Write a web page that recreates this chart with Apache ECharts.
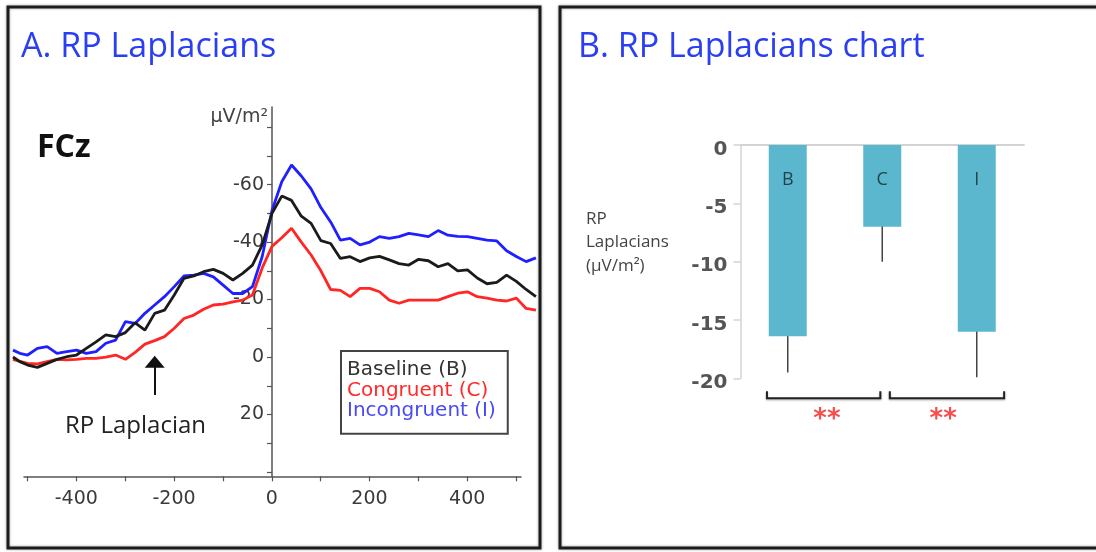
<!DOCTYPE html>
<html>
<head>
<meta charset="utf-8">
<script src="https://cdn.jsdelivr.net/npm/echarts@6/dist/echarts.min.js"></script>
<style>
  html, body { margin: 0; padding: 0; background: #fff; }
  #main { width: 1096px; height: 552px; }
</style>
</head>
<body>
<div id="main"></div>
<script>
// Panel A: RP Laplacian waveforms at FCz (ms vs µV/m²)
const times = [
    -530, -516, -500, -480, -460, -440, -420, -400, -380, -360, -340, -320, -300, -280,
    -260, -240, -220, -200, -180, -160, -140, -120, -100, -80, -60, -40, -20, 0,
    20, 40, 60, 80, 100, 120, 140, 160, 180, 200, 220, 240, 260, 280,
    300, 320, 340, 360, 380, 400, 420, 440, 460, 480, 500, 520, 540,
];
const baseline = [
    0, 1.6, 2.8, 3.6, 2.2, 0.8, -0.1, -0.7, -3, -5.3, -7.7, -7.1, -8.5, -11.9,
    -9.4, -15.2, -16.3, -21.6, -27.4, -28.2, -29.7, -30.5, -29.1, -26.8, -29.1, -32, -39, -50,
    -56, -54.5, -49, -46.5, -40.5, -39.5, -34.3, -34.9, -33.2, -34.5, -35, -33.8, -32.5, -32,
    -34, -33.5, -31.4, -32.5, -30, -30.3, -27.5, -25.5, -26, -28.5, -26.3, -23.5, -21,
];
const congruent = [
    0.8, 1.5, 2.2, 2.4, 1.6, 0.8, 1.0, 0.8, 0.5, 0.5, 0, -0.7, 0.8, -1.6,
    -4.5, -5.7, -7.1, -10, -13.4, -14.6, -16.6, -18.1, -18.4, -19.2, -19.8, -21.6, -31, -38.5,
    -41.5, -44.8, -40, -35.5, -30, -23.5, -23.2, -21, -23.9, -23.9, -22.7, -19.8, -18.7, -19.8,
    -19.8, -19.8, -19.8, -21, -22.2, -22.7, -21, -20.5, -19.8, -19.5, -20.5, -16.9, -16.3,
];
const incongruent = [
    -2.4, -1.3, -0.7, -3, -3.6, -1.3, -1.9, -2.4, -1.3, -1.9, -4.8, -5.9, -12.3, -11.7,
    -15.2, -18.1, -21, -24.5, -28.2, -28.5, -29.1, -27.9, -25, -22.1, -22.1, -24.5, -35, -51,
    -61, -66.8, -63, -58.5, -52, -47, -40.7, -41.3, -39, -40, -41.9, -41.3, -41.9, -43,
    -42.5, -41.9, -44, -42.4, -42, -41.9, -41.3, -40.7, -40.4, -37, -35, -33.2, -34.5,
];
const xTicks = [-500, -400, -300, -200, -100, 0, 100, 200, 300, 400, 500];
const xLabels = [-400, -200, 0, 200, 400];
const yTicks = [-80, -70, -60, -50, -40, -30, -20, -10, 0, 10, 20, 30, 40];
const yLabels = [-60, -40, -20, 0, 20];
const arrowX = -240;
const arrowFrom = 13.2;
const arrowTo = 1.6;

// Panel B: mean RP Laplacian amplitude per condition
const groups = ['B', 'C', 'I'];
const means = [-16.4, -7.0, -16.0];
const errors = [3.1, 3.0, 3.9];
const letterLevel = -3;
const bracketFrom = [-0.22, 1.08];
const bracketTo = [0.98, 2.29];
const bracketLevel = -21.7;
const bracketTip = -21.1;
const starX = [0.415, 1.645];
const starLevel = -23.6;

const pairs = vals => times.map((t, i) => [t, vals[i]]);

const blue = '#2b3ff2';
const axisFontA = { fontFamily: 'DejaVu Sans', fontSize: 19, color: '#3a3a3a' };
const axisLineA = { color: '#555', width: 1.5 };
const greyB = '#d3d3d3';
// vertical extent of panel A (inverted: negative up)
const yMinA = -87, yMaxA = 41.5;

function lineSeries(name, vals, color, extra) {
    return Object.assign({
        name, type: 'line', xAxisIndex: 0, yAxisIndex: 0,
        data: pairs(vals), showSymbol: false, silent: true,
        lineStyle: { color, width: 2.8 }, itemStyle: { color },
    }, extra);
}

const chart = echarts.init(document.getElementById('main'));
chart.setOption({
    animation: false,
    backgroundColor: '#fff',
    title: [
        { text: 'A. RP Laplacians', left: 21, top: 30, padding: 0,
          textStyle: { fontFamily: 'Open Sans', fontSize: 34, fontWeight: 'normal', color: blue } },
        { text: 'B. RP Laplacians chart', left: 578, top: 30, padding: 0,
          textStyle: { fontFamily: 'Open Sans', fontSize: 34, fontWeight: 'normal', color: blue } },
        { text: 'FCz', left: 37, top: 132, padding: 0,
          textStyle: { fontFamily: 'Open Sans', fontSize: 32, fontWeight: 'bold', color: '#111' } },
        { text: 'μV/m²', right: 828, top: 108, padding: 0,
          textStyle: { fontFamily: 'DejaVu Sans', fontSize: 19, fontWeight: 'normal', color: '#444' } },
        { text: 'RP Laplacian', left: 65, top: 414, padding: 0,
          textStyle: { fontFamily: 'Open Sans', fontSize: 24, fontWeight: 'normal', color: '#222' } },
        { text: 'RP\nLaplacians\n(μV/m²)', left: 586, top: 207, padding: 0,
          textStyle: { fontFamily: 'Open Sans', fontSize: 17, lineHeight: 23.5, fontWeight: 'normal', color: '#444' } },
    ],
    legend: {
        left: 341, top: 351, orient: 'vertical',
        itemWidth: 0, itemHeight: 20.8, itemGap: 0, icon: 'none',
        padding: [8.6, 12, 13, 1],
        borderColor: '#444', borderWidth: 2, backgroundColor: '#fff',
        selectedMode: false,
        textStyle: { fontFamily: 'DejaVu Sans', fontSize: 20 },
        data: [
            { name: 'Baseline (B)', textStyle: { color: '#333' } },
            { name: 'Congruent (C)', textStyle: { color: '#ff2a2a' } },
            { name: 'Incongruent (I)', textStyle: { color: '#4a4af5' } },
        ],
    },
    graphic: [
        { type: 'rect', silent: true, z: 100,
          shape: { x: 8, y: 7, width: 532, height: 541 },
          style: { fill: null, stroke: '#1c1c1c', lineWidth: 3, shadowBlur: 3, shadowColor: 'rgba(0,0,0,0.35)' } },
        { type: 'rect', silent: true, z: 100,
          shape: { x: 560, y: 7, width: 560, height: 541 },
          style: { fill: null, stroke: '#1c1c1c', lineWidth: 3, shadowBlur: 3, shadowColor: 'rgba(0,0,0,0.35)' } },
    ],
    grid: [
        // 0: waveform data (wider than the drawn x axis)
        { left: 12, top: 107, width: 523.9, height: 369.3, outerBoundsMode: 'none' },
        // 1: bar chart
        { left: 740.5, top: 145, width: 283.5, height: 233.3, outerBoundsMode: 'none' },
        // 2: panel A x axis
        { left: 24, top: 107, width: 497, height: 369.3, outerBoundsMode: 'none' },
        // 3: panel A y axis, sitting at t = 0
        { left: 272, top: 107, width: 1, height: 369.3, outerBoundsMode: 'none' },
    ],
    xAxis: [
        { gridIndex: 0, type: 'value', min: -532, max: 540, show: false },
        { gridIndex: 1, type: 'category', data: groups,
          axisLine: { onZero: true, lineStyle: { color: greyB, width: 2 } },
          axisTick: { length: 6, lineStyle: { color: greyB, width: 1.5 } },
          axisLabel: { show: false } },
        { gridIndex: 1, type: 'value', min: -0.5, max: 2.5, show: false,
          axisLine: { onZero: false } },
        { gridIndex: 2, type: 'value', min: -507, max: 510,
          axisLine: { onZero: false, lineStyle: axisLineA },
          axisTick: { customValues: xTicks, length: 5, lineStyle: { color: '#555', width: 1.2 } },
          axisLabel: Object.assign({ customValues: xLabels, margin: 13 }, axisFontA),
          splitLine: { show: false } },
        { gridIndex: 3, type: 'value', min: 0, max: 1, show: false },
    ],
    yAxis: [
        { gridIndex: 0, type: 'value', inverse: true, min: yMinA, max: yMaxA, show: false },
        { gridIndex: 1, type: 'value', min: -20, max: 0, interval: 5,
          axisLine: { show: true, onZero: false, lineStyle: { color: greyB, width: 1.5 } },
          axisTick: { show: true, length: 7, lineStyle: { color: greyB, width: 1.5 } },
          axisLabel: { margin: 13, verticalAlign: 'top', lineHeight: 9,
                       fontFamily: 'DejaVu Sans', fontSize: 20, fontWeight: 'bold', color: '#555' },
          splitLine: { show: false } },
        { gridIndex: 2, type: 'value', inverse: true, min: yMinA, max: yMaxA, show: false },
        { gridIndex: 3, type: 'value', inverse: true, min: yMinA, max: yMaxA,
          axisLine: { show: true, onZero: false, lineStyle: axisLineA },
          axisTick: { show: true, customValues: yTicks, length: 5, lineStyle: { color: '#555', width: 1.2 } },
          axisLabel: Object.assign({ customValues: yLabels, margin: 8 }, axisFontA),
          splitLine: { show: false } },
    ],
    series: [
        lineSeries('Congruent (C)', congruent, '#ff2626'),
        lineSeries('Incongruent (I)', incongruent, '#1f1fff'),
        lineSeries('Baseline (B)', baseline, '#1b1b1b', {
            markLine: {
                silent: true, animation: false,
                label: { show: false },
                lineStyle: { color: '#111', width: 2, type: 'solid' },
                data: [[
                    { coord: [arrowX, arrowFrom], symbol: 'none' },
                    { coord: [arrowX, arrowTo], symbol: 'triangle', symbolSize: [20, 12] },
                ]],
            },
        }),
        { type: 'bar', xAxisIndex: 1, yAxisIndex: 1, data: means, barWidth: 38,
          silent: true, itemStyle: { color: '#5bb7cd' } },
        { type: 'custom', xAxisIndex: 1, yAxisIndex: 1, silent: true,
          data: groups.map((g, i) => [i, means[i], errors[i]]),
          encode: { x: 0, y: 1 },
          renderItem: (params, api) => {
              const i = api.value(0), m = api.value(1), e = api.value(2);
              const p1 = api.coord([i, m + e]);
              const p2 = api.coord([i, m - e]);
              return { type: 'line', shape: { x1: p1[0], y1: p1[1], x2: p2[0], y2: p2[1] },
                       style: { stroke: '#444', lineWidth: 1.5 } };
          } },
        { type: 'custom', xAxisIndex: 2, yAxisIndex: 1, silent: true,
          data: bracketFrom.map((f, i) => [f, bracketTo[i], bracketLevel, bracketTip]),
          encode: { x: [0, 1], y: [2, 3] },
          renderItem: (params, api) => {
              const a = api.coord([api.value(0), api.value(2)]);
              const b = api.coord([api.value(1), api.value(2)]);
              const tip = api.coord([api.value(0), api.value(3)]);
              return { type: 'polyline',
                       shape: { points: [[a[0], tip[1]], a, b, [b[0], tip[1]]] },
                       style: { stroke: '#222', fill: null, lineWidth: 2,
                                shadowBlur: 2, shadowColor: 'rgba(0,0,0,0.35)', shadowOffsetY: 1 } };
          } },
        { type: 'scatter', xAxisIndex: 1, yAxisIndex: 1, silent: true,
          symbolSize: 1, itemStyle: { color: 'transparent' },
          data: groups.map((g, i) => ({ value: [i, letterLevel], name: g })),
          label: { show: true, position: 'inside', formatter: '{b}',
                   fontFamily: 'Open Sans', fontSize: 18, color: '#14232b' } },
        { type: 'scatter', xAxisIndex: 2, yAxisIndex: 1, silent: true, clip: false,
          symbolSize: 1, itemStyle: { color: 'transparent' },
          data: starX.map(x => [x, starLevel]),
          label: { show: true, position: 'inside', formatter: '**',
                   fontFamily: 'DejaVu Sans', fontWeight: 'bold', fontSize: 26, color: '#f52020' } },
    ],
});
</script>
</body>
</html>
